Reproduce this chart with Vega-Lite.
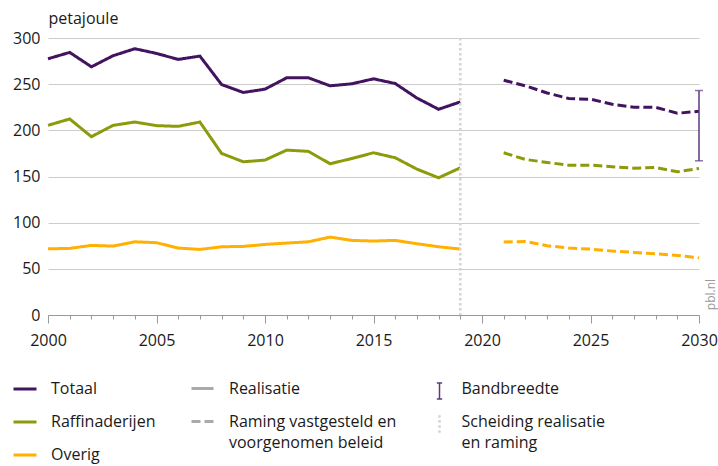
{
  "$schema": "https://vega.github.io/schema/vega-lite/v6.json",
  "width": 651,
  "height": 277,
  "autosize": {"type": "none"},
  "padding": {"left": 48, "top": 38, "right": 19, "bottom": 151},
  "config": {
    "view": {"stroke": null},
    "font": "Open Sans",
    "axis": {"labelFont": "Open Sans", "labelFontSize": 16, "labelColor": "#1a1a1a", "titleFont": "Open Sans"},
    "legend": {"labelFont": "Open Sans", "labelFontSize": 16, "labelColor": "#1a1a1a", "orient": "none", "direction": "vertical", "padding": 0, "labelLimit": 400}
  },
  "datasets": {
    "series": [
      {"year": 2000, "series": "Totaal", "type": "Realisatie", "value": 277.5},
      {"year": 2001, "series": "Totaal", "type": "Realisatie", "value": 284.4},
      {"year": 2002, "series": "Totaal", "type": "Realisatie", "value": 268.8},
      {"year": 2003, "series": "Totaal", "type": "Realisatie", "value": 280.8},
      {"year": 2004, "series": "Totaal", "type": "Realisatie", "value": 288.4},
      {"year": 2005, "series": "Totaal", "type": "Realisatie", "value": 283.3},
      {"year": 2006, "series": "Totaal", "type": "Realisatie", "value": 276.8},
      {"year": 2007, "series": "Totaal", "type": "Realisatie", "value": 280.4},
      {"year": 2008, "series": "Totaal", "type": "Realisatie", "value": 249.6},
      {"year": 2009, "series": "Totaal", "type": "Realisatie", "value": 241.0},
      {"year": 2010, "series": "Totaal", "type": "Realisatie", "value": 244.6},
      {"year": 2011, "series": "Totaal", "type": "Realisatie", "value": 256.9},
      {"year": 2012, "series": "Totaal", "type": "Realisatie", "value": 256.9},
      {"year": 2013, "series": "Totaal", "type": "Realisatie", "value": 248.2},
      {"year": 2014, "series": "Totaal", "type": "Realisatie", "value": 250.4},
      {"year": 2015, "series": "Totaal", "type": "Realisatie", "value": 255.8},
      {"year": 2016, "series": "Totaal", "type": "Realisatie", "value": 250.7},
      {"year": 2017, "series": "Totaal", "type": "Realisatie", "value": 235.0},
      {"year": 2018, "series": "Totaal", "type": "Realisatie", "value": 222.8},
      {"year": 2019, "series": "Totaal", "type": "Realisatie", "value": 230.8},
      {"year": 2021, "series": "Totaal", "type": "Raming vastgesteld en voorgenomen beleid", "value": 254.3},
      {"year": 2022, "series": "Totaal", "type": "Raming vastgesteld en voorgenomen beleid", "value": 248.2},
      {"year": 2023, "series": "Totaal", "type": "Raming vastgesteld en voorgenomen beleid", "value": 240.5},
      {"year": 2024, "series": "Totaal", "type": "Raming vastgesteld en voorgenomen beleid", "value": 234.4},
      {"year": 2025, "series": "Totaal", "type": "Raming vastgesteld en voorgenomen beleid", "value": 233.7},
      {"year": 2026, "series": "Totaal", "type": "Raming vastgesteld en voorgenomen beleid", "value": 228.3},
      {"year": 2027, "series": "Totaal", "type": "Raming vastgesteld en voorgenomen beleid", "value": 225.0},
      {"year": 2028, "series": "Totaal", "type": "Raming vastgesteld en voorgenomen beleid", "value": 225.0},
      {"year": 2029, "series": "Totaal", "type": "Raming vastgesteld en voorgenomen beleid", "value": 218.5},
      {"year": 2030, "series": "Totaal", "type": "Raming vastgesteld en voorgenomen beleid", "value": 220.6},
      {"year": 2000, "series": "Raffinaderijen", "type": "Realisatie", "value": 205.4},
      {"year": 2001, "series": "Raffinaderijen", "type": "Realisatie", "value": 212.3},
      {"year": 2002, "series": "Raffinaderijen", "type": "Realisatie", "value": 193.1},
      {"year": 2003, "series": "Raffinaderijen", "type": "Realisatie", "value": 205.4},
      {"year": 2004, "series": "Raffinaderijen", "type": "Realisatie", "value": 209.0},
      {"year": 2005, "series": "Raffinaderijen", "type": "Realisatie", "value": 205.1},
      {"year": 2006, "series": "Raffinaderijen", "type": "Realisatie", "value": 204.3},
      {"year": 2007, "series": "Raffinaderijen", "type": "Realisatie", "value": 209.0},
      {"year": 2008, "series": "Raffinaderijen", "type": "Realisatie", "value": 175.0},
      {"year": 2009, "series": "Raffinaderijen", "type": "Realisatie", "value": 165.9},
      {"year": 2010, "series": "Raffinaderijen", "type": "Realisatie", "value": 167.8},
      {"year": 2011, "series": "Raffinaderijen", "type": "Realisatie", "value": 178.6},
      {"year": 2012, "series": "Raffinaderijen", "type": "Realisatie", "value": 177.2},
      {"year": 2013, "series": "Raffinaderijen", "type": "Realisatie", "value": 163.8},
      {"year": 2014, "series": "Raffinaderijen", "type": "Realisatie", "value": 169.5},
      {"year": 2015, "series": "Raffinaderijen", "type": "Realisatie", "value": 175.7},
      {"year": 2016, "series": "Raffinaderijen", "type": "Realisatie", "value": 170.3},
      {"year": 2017, "series": "Raffinaderijen", "type": "Realisatie", "value": 158.0},
      {"year": 2018, "series": "Raffinaderijen", "type": "Realisatie", "value": 148.6},
      {"year": 2019, "series": "Raffinaderijen", "type": "Realisatie", "value": 159.4},
      {"year": 2021, "series": "Raffinaderijen", "type": "Raming vastgesteld en voorgenomen beleid", "value": 175.7},
      {"year": 2022, "series": "Raffinaderijen", "type": "Raming vastgesteld en voorgenomen beleid", "value": 168.5},
      {"year": 2023, "series": "Raffinaderijen", "type": "Raming vastgesteld en voorgenomen beleid", "value": 165.2},
      {"year": 2024, "series": "Raffinaderijen", "type": "Raming vastgesteld en voorgenomen beleid", "value": 162.3},
      {"year": 2025, "series": "Raffinaderijen", "type": "Raming vastgesteld en voorgenomen beleid", "value": 162.3},
      {"year": 2026, "series": "Raffinaderijen", "type": "Raming vastgesteld en voorgenomen beleid", "value": 160.5},
      {"year": 2027, "series": "Raffinaderijen", "type": "Raming vastgesteld en voorgenomen beleid", "value": 159.0},
      {"year": 2028, "series": "Raffinaderijen", "type": "Raming vastgesteld en voorgenomen beleid", "value": 159.8},
      {"year": 2029, "series": "Raffinaderijen", "type": "Raming vastgesteld en voorgenomen beleid", "value": 155.1},
      {"year": 2030, "series": "Raffinaderijen", "type": "Raming vastgesteld en voorgenomen beleid", "value": 158.7},
      {"year": 2000, "series": "Overig", "type": "Realisatie", "value": 71.7},
      {"year": 2001, "series": "Overig", "type": "Realisatie", "value": 72.1},
      {"year": 2002, "series": "Overig", "type": "Realisatie", "value": 75.4},
      {"year": 2003, "series": "Overig", "type": "Realisatie", "value": 74.6},
      {"year": 2004, "series": "Overig", "type": "Realisatie", "value": 79.3},
      {"year": 2005, "series": "Overig", "type": "Realisatie", "value": 78.3},
      {"year": 2006, "series": "Overig", "type": "Realisatie", "value": 72.5},
      {"year": 2007, "series": "Overig", "type": "Realisatie", "value": 71.0},
      {"year": 2008, "series": "Overig", "type": "Realisatie", "value": 73.9},
      {"year": 2009, "series": "Overig", "type": "Realisatie", "value": 74.3},
      {"year": 2010, "series": "Overig", "type": "Realisatie", "value": 76.4},
      {"year": 2011, "series": "Overig", "type": "Realisatie", "value": 77.9},
      {"year": 2012, "series": "Overig", "type": "Realisatie", "value": 79.3},
      {"year": 2013, "series": "Overig", "type": "Realisatie", "value": 84.4},
      {"year": 2014, "series": "Overig", "type": "Realisatie", "value": 80.8},
      {"year": 2015, "series": "Overig", "type": "Realisatie", "value": 80.1},
      {"year": 2016, "series": "Overig", "type": "Realisatie", "value": 80.8},
      {"year": 2017, "series": "Overig", "type": "Realisatie", "value": 77.2},
      {"year": 2018, "series": "Overig", "type": "Realisatie", "value": 73.9},
      {"year": 2019, "series": "Overig", "type": "Realisatie", "value": 71.4},
      {"year": 2021, "series": "Overig", "type": "Raming vastgesteld en voorgenomen beleid", "value": 79.0},
      {"year": 2022, "series": "Overig", "type": "Raming vastgesteld en voorgenomen beleid", "value": 79.7},
      {"year": 2023, "series": "Overig", "type": "Raming vastgesteld en voorgenomen beleid", "value": 75.0},
      {"year": 2024, "series": "Overig", "type": "Raming vastgesteld en voorgenomen beleid", "value": 72.5},
      {"year": 2025, "series": "Overig", "type": "Raming vastgesteld en voorgenomen beleid", "value": 71.4},
      {"year": 2026, "series": "Overig", "type": "Raming vastgesteld en voorgenomen beleid", "value": 69.2},
      {"year": 2027, "series": "Overig", "type": "Raming vastgesteld en voorgenomen beleid", "value": 67.8},
      {"year": 2028, "series": "Overig", "type": "Raming vastgesteld en voorgenomen beleid", "value": 66.3},
      {"year": 2029, "series": "Overig", "type": "Raming vastgesteld en voorgenomen beleid", "value": 64.5},
      {"year": 2030, "series": "Overig", "type": "Raming vastgesteld en voorgenomen beleid", "value": 62.0}
    ],
    "band": [
      {"year": 2030, "kind": "Bandbreedte", "low": 167.0, "high": 243.1}
    ],
    "sep": [
      {"year": 2019, "kind": "Scheiding realisatie en raming"}
    ]
  },
  "encoding": {
    "x": {
      "field": "year",
      "type": "quantitative",
      "scale": {"domain": [2000, 2030], "nice": false, "zero": false},
      "axis": {
        "title": null,
        "grid": false,
        "values": [2000, 2001, 2002, 2003, 2004, 2005, 2006, 2007, 2008, 2009, 2010, 2011, 2012, 2013, 2014, 2015, 2016, 2017, 2018, 2019, 2020, 2021, 2022, 2023, 2024, 2025, 2026, 2027, 2028, 2029, 2030],
        "format": "d",
        "labelExpr": "datum.value % 5 === 0 ? datum.label : ''",
        "tickSize": {"condition": {"test": "datum.value % 5 === 0", "value": 8}, "value": 4},
        "tickColor": "#999999",
        "domainColor": "#999999",
        "labelPadding": 9,
        "labelFlush": false,
        "labelOverlap": false
      }
    }
  },
  "layer": [
    {
      "data": {"name": "series"},
      "mark": {"type": "line", "strokeWidth": 3},
      "encoding": {
        "y": {
          "field": "value",
          "type": "quantitative",
          "scale": {"domain": [0, 300], "nice": false},
          "axis": {
            "orient": "left",
            "values": [0, 50, 100, 150, 200, 250, 300],
            "grid": true,
            "gridColor": "#cccccc",
            "domain": false,
            "ticks": false,
            "labelPadding": 8,
            "title": "petajoule",
            "titleAngle": 0,
            "titleAlign": "left",
            "titleBaseline": "alphabetic",
            "titleX": 0,
            "titleY": -14.5,
            "titleFontSize": 16,
            "titleFontWeight": "normal",
            "titleColor": "#1a1a1a"
          }
        },
        "color": {
          "field": "series",
          "type": "nominal",
          "scale": {"domain": ["Totaal", "Raffinaderijen", "Overig"], "range": ["#42145f", "#8c9b0c", "#ffb000"]},
          "legend": {
            "title": null,
            "orient": "none",
            "legendX": -36,
            "legendY": 338,
            "symbolType": "stroke",
            "symbolSize": 529,
            "symbolStrokeWidth": 3,
            "labelOffset": 13,
            "rowPadding": 12
          }
        },
        "strokeDash": {
          "field": "type",
          "type": "nominal",
          "scale": {"domain": ["Realisatie", "Raming vastgesteld en voorgenomen beleid"], "range": [[1, 0], [9, 4]]},
          "legend": {
            "title": null,
            "orient": "none",
            "legendX": 142,
            "legendY": 338,
            "symbolType": "stroke",
            "symbolSize": 484,
            "symbolStrokeWidth": 3,
            "symbolStrokeColor": "#aaaaaa",
            "labelOffset": 14,
            "rowPadding": 12,
            "labelBaseline": "top",
            "labelExpr": "datum.label === 'Raming vastgesteld en voorgenomen beleid' ? ['Raming vastgesteld en', 'voorgenomen beleid'] : datum.label",
            "encode": {
              "symbols": {"update": {"stroke": {"value": "#aaaaaa"}}},
              "labels": {"update": {"dy": {"value": -7.5}, "lineHeight": {"value": 21}}}
            }
          }
        }
      }
    },
    {
      "layer": [
        {
          "data": {"name": "sep"},
          "mark": {"type": "rule", "strokeWidth": 2.5, "strokeDash": [2.5, 2.5]},
          "encoding": {
            "color": {
              "field": "kind",
              "type": "nominal",
              "scale": {"domain": ["Bandbreedte", "Scheiding realisatie en raming"], "range": ["#5b3a7e", "#d4d4d4"]},
              "legend": {
                "title": null,
                "orient": "none",
                "legendX": 383.5,
                "legendY": 342.5,
                "symbolSize": 529,
                "labelOffset": 14,
                "rowPadding": 7,
                "labelBaseline": "top",
                "labelExpr": "datum.label === 'Scheiding realisatie en raming' ? ['Scheiding realisatie', 'en raming'] : datum.label",
                "encode": {
                  "symbols": {"update": {
                    "shape": {"signal": "datum.value === 'Bandbreedte' ? 'M0,-0.48L0,0.92M-0.23,-0.48L0.23,-0.48M-0.23,0.92L0.23,0.92' : 'M0,-0.55L0,-0.33M0,-0.12L0,0.1M0,0.32L0,0.54M0,0.76L0,0.98'"},
                    "strokeWidth": {"signal": "datum.value === 'Bandbreedte' ? 1.5 : 2.5"},
                    "strokeDash": {"value": [1, 0]},
                    "fill": {"value": "transparent"}
                  }},
                  "labels": {"update": {"dy": {"value": -7.5}, "lineHeight": {"value": 21}}}
                }
              }
            }
          }
        },
        {
          "data": {"name": "band"},
          "mark": {"type": "rule", "strokeWidth": 1.5},
          "encoding": {
            "y": {
              "field": "low",
              "type": "quantitative",
              "title": "pbl.nl",
              "axis": {
                "orient": "right",
                "labels": false,
                "ticks": false,
                "domain": false,
                "grid": false,
                "titleAngle": 270,
                "titleAlign": "center",
                "titleBaseline": "middle",
                "titleX": 11,
                "titleY": 256,
                "titleFontSize": 12,
                "titleFontWeight": "normal",
                "titleColor": "#999999"
              }
            },
            "y2": {"field": "high"},
            "color": {"field": "kind", "type": "nominal"}
          }
        },
        {
          "data": {"name": "band"},
          "transform": [{"fold": ["low", "high"], "as": ["end", "bound"]}],
          "mark": {"type": "tick", "orient": "horizontal", "size": 8, "thickness": 1.5},
          "encoding": {
            "y": {"field": "bound", "type": "quantitative", "title": "pbl.nl"},
            "color": {"field": "kind", "type": "nominal"}
          }
        }
      ]
    }
  ],
  "resolve": {"scale": {"color": "independent"}, "axis": {"y": "independent"}}
}
